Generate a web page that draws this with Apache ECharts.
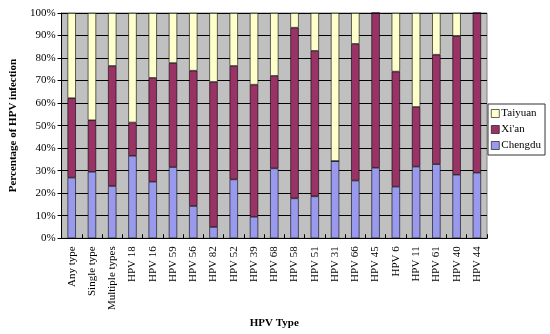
<!DOCTYPE html>
<html>
<head>
<meta charset="utf-8">
<script src="https://cdn.jsdelivr.net/npm/echarts@6/dist/echarts.min.js"></script>
<style>html,body{margin:0;padding:0;background:#fff;}#c{width:550px;height:334px;}</style>
</head>
<body>
<div id="c"></div>
<script>
const categories = ['Any type','Single type','Multiple types','HPV 18','HPV 16','HPV 59','HPV 56','HPV 82','HPV 52','HPV 39','HPV 68','HPV 58','HPV 51','HPV 31','HPV 66','HPV 45','HPV 6','HPV 11','HPV 61','HPV 40','HPV 44'];
const chengdu = [26.9,29.5,23.2,36.6,25.1,31.6,14.3,5.0,26.1,9.5,31.0,17.7,18.6,34.3,25.6,31.3,22.9,31.8,32.9,28.2,29.1];
const xian    = [35.3,22.9,53.3,14.8,46.1,46.2,60.1,64.4,50.4,58.7,41.1,75.8,64.6,0,60.7,68.7,51.1,26.5,48.6,61.6,70.9];
const taiyuan = [37.8,47.6,23.5,48.6,28.8,22.2,25.6,30.6,23.5,31.8,27.9,6.5,16.8,65.7,13.7,0,26.0,41.7,18.5,10.2,0];
const yTicks = [0,10,20,30,40,50,60,70,80,90,100];

const font = 'Liberation Serif, Times New Roman, serif';
const chart = echarts.init(document.getElementById('c'));
const mk = (name, data, color) => ({
  name, type: 'bar', stack: 'all', data, barWidth: '41%',
  itemStyle: { color, borderColor: '#000', borderWidth: 0.6 }
});
chart.setOption({
  animation: false,
  textStyle: { fontFamily: font },
  grid: { left: 57, right: 63, top: 13, bottom: 95, show: true, backgroundColor: '#C0C0C0', borderColor: '#808080', borderWidth: 1 },
  legend: {
    orient: 'vertical', left: 488, top: 104,
    data: ['Taiyuan', "Xi'an", 'Chengdu'],
    backgroundColor: '#fff', borderColor: '#333', borderWidth: 1,
    padding: [4, 4, 4, 3], itemWidth: 8, itemHeight: 8, itemGap: 5,
    icon: 'rect',
    textStyle: { fontFamily: font, fontSize: 11, color: '#000', padding: [0,0,0,-3] },
    itemStyle: { borderColor: '#000', borderWidth: 0.6 }
  },
  xAxis: {
    type: 'category', data: categories,
    name: 'HPV Type', nameLocation: 'middle', nameGap: 72,
    nameTextStyle: { fontFamily: font, fontWeight: 'bold', fontSize: 11, color: '#000' },
    axisLine: { lineStyle: { color: '#000', width: 1 } },
    axisTick: { show: true, inside: true, length: 4, lineStyle: { color: '#000' } },
    axisLabel: { rotate: 90, interval: 0, fontSize: 11, color: '#000', fontFamily: font, margin: 8 }
  },
  yAxis: {
    type: 'value', min: 0, max: 100, interval: 10,
    name: 'Percentage of HPV infection', nameLocation: 'middle', nameGap: 40,
    nameTextStyle: { fontFamily: font, fontWeight: 'bold', fontSize: 11, color: '#000' },
    axisLine: { show: true, lineStyle: { color: '#000', width: 1 } },
    axisTick: { show: true, length: 4, lineStyle: { color: '#000' } },
    splitLine: { show: true, lineStyle: { color: '#000', width: 1 } },
    axisLabel: { fontSize: 11, color: '#000', fontFamily: font, margin: 6,
      formatter: v => yTicks.includes(v) ? v + '%' : '' }
  },
  series: [
    mk('Chengdu', chengdu, '#9999EE'),
    mk("Xi'an", xian, '#993366'),
    mk('Taiyuan', taiyuan, '#FFFFCC')
  ]
});
</script>
</body>
</html>
